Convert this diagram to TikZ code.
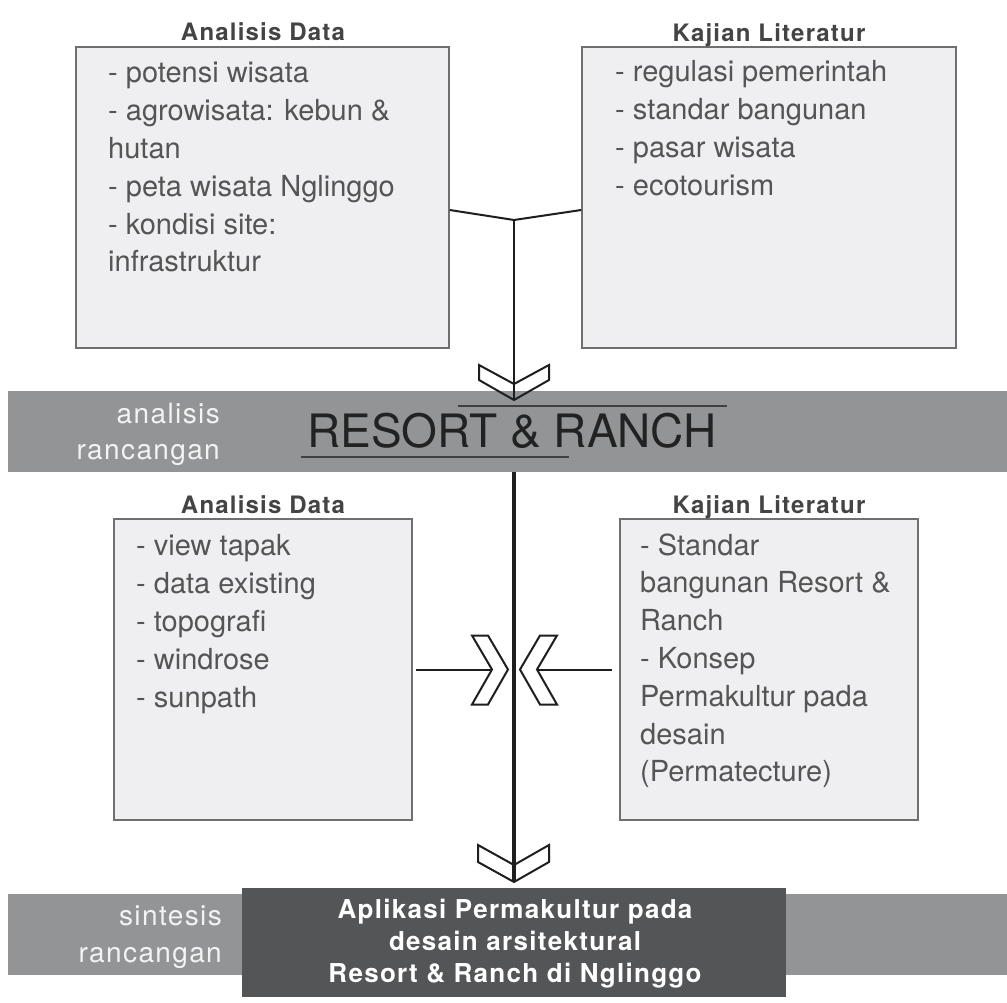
\documentclass[tikz,border=0pt]{standalone}
\usepackage{fontspec}
\setmainfont{TeX Gyre Heros}
\newfontfamily\trackfont[LetterSpace=5]{TeX Gyre Heros}
\definecolor{boxfill}{HTML}{EFEFF1}
\definecolor{boxline}{HTML}{6F6F6F}
\definecolor{itemtxt}{HTML}{555555}
\definecolor{headtxt}{HTML}{444444}
\definecolor{bandgray}{HTML}{939495}
\definecolor{bandtxt}{HTML}{F3F3F3}
\definecolor{darkbox}{HTML}{545557}
\definecolor{linecol}{HTML}{1E1E1E}
\definecolor{titlecol}{HTML}{222222}
\tikzset{
  panel/.style={draw=boxline, fill=boxfill, line width=1.5pt, inner sep=0pt, minimum height=301pt},
  item/.style={anchor=base west, inner sep=0pt, text=itemtxt, font=\fontsize{29}{35}\selectfont},
  head/.style={anchor=base, inner sep=0pt, text=headtxt, font=\trackfont\bfseries\fontsize{24}{28}\selectfont},
  band/.style={fill=bandgray, draw=none, inner sep=0pt, minimum height=81pt, minimum width=999pt},
  bandlabel/.style={anchor=base east, inner sep=0pt, text=bandtxt, font=\trackfont\fontsize{28}{32}\selectfont},
  synline/.style={anchor=base, inner sep=0pt, text=white, font=\trackfont\bfseries\fontsize{26}{30}\selectfont},
  link/.style={draw=linecol, line width=2pt},
  trunk/.style={draw=linecol, line width=3.5pt},
  chev/.style={draw=linecol, line width=2pt, line join=miter},
  rule/.style={draw=linecol!85, line width=1.5pt},
}
\begin{document}
\begin{tikzpicture}[x=1pt,y=-1pt]
\useasboundingbox (0,0) rectangle (1007,1003);
\fill[white] (0,0) rectangle (1007,1003);

% upper panels
\node[panel, minimum width=373pt] (b1) at (262.5,197.5) {};
\node[panel, minimum width=374pt] (b2) at (769,197.5) {};
\node[head] (h1) at (263,41) {Analisis Data};
\node[head] (h2) at (769,42) {Kajian Literatur};
\foreach \t [count=\i] in {- potensi wisata, - agrowisata: kebun \&, hutan, - peta wisata Nglinggo, - kondisi site:, infrastruktur}
  \node[item] (pa\i) at (108,83+37.8*\i-37.8) {\t};
\foreach \t [count=\i] in {- regulasi pemerintah, - standar bangunan, - pasar wisata, - ecotourism}
  \node[item] (pb\i) at (615,82+38*\i-38) {\t};

% analysis band
\node[band] (band1) at (507.5,431.5) {};
\node[bandlabel] (la1) at (220,423) {analisis};
\node[bandlabel] (la2) at (220,459) {rancangan};
\node[anchor=base, inner sep=0pt, text=titlecol, font=\fontsize{46}{50}\selectfont] (rr) at (512,447) {RESORT \& RANCH};
\draw[rule] (458,406) -- (727,406);
\draw[rule] (301,457) -- (569,457);

% lower panels
\node[panel, minimum width=298pt] (b3) at (263,669.5) {};
\node[panel, minimum width=298pt] (b4) at (769,669.5) {};
\node[head] (h3) at (263,513) {Analisis Data};
\node[head] (h4) at (769,513) {Kajian Literatur};
\foreach \t [count=\i] in {- view tapak, - data existing, - topografi, - windrose, - sunpath}
  \node[item] (pc\i) at (136,555+38*\i-38) {\t};
\foreach \t [count=\i] in {- Standar, bangunan Resort \&, Ranch, - Konsep, Permakultur pada, desain, (Permatecture)}
  \node[item] (pd\i) at (640,555+37.8*\i-37.8) {\t};

% synthesis band
\node[band] (band2) at (507.5,934) {};
\node[fill=darkbox, inner sep=0pt, minimum width=544pt, minimum height=109pt] (syn) at (514,942.5) {};
\node[bandlabel] (ls1) at (222,925) {sintesis};
\node[bandlabel] (ls2) at (222,962) {rancangan};
\node[synline] (s1) at (515,918) {Aplikasi Permakultur pada};
\node[synline] (s2) at (515,950) {desain arsitektural};
\node[synline] (s3) at (515,982) {Resort \& Ranch di Nglinggo};

% connectors
\coordinate (j) at (514,220);
\coordinate (t1) at (514,400);
\coordinate (t2) at (514,882);
\draw[link] ([yshift=-12.5pt]b1.east) -- (j) -- ([yshift=-12.5pt]b2.west);
\draw[link] (j) -- (t1);
\draw[chev] (t1) -- ++(-35,-20) -- ++(0,-15) -- ++(35,19) -- ++(35,-19) -- ++(0,15) -- cycle;
\draw[trunk] (j |- band1.south) -- (t2);
\draw[chev] (t2) -- ++(-36,-20) -- ++(0,-17) -- ++(36,20) -- ++(35,-20) -- ++(0,17) -- cycle;

\coordinate (c1) at (508,669.5);
\coordinate (c2) at (520,669.5);
\draw[chev] (c1) -- ++(-20,-34) -- ++(-16,0) -- ++(20,34) coordinate (c1in) -- ++(-20,35) -- ++(16,0) -- cycle;
\draw[chev] (c2) -- ++(20,-34) -- ++(17,0) -- ++(-20,34) coordinate (c2in) -- ++(20,35) -- ++(-17,0) -- cycle;
\draw[link] ([xshift=3pt]b3.east) -- (c1in);
\draw[link] (c2in) -- ([xshift=-7pt]b4.west);
\end{tikzpicture}
\end{document}
